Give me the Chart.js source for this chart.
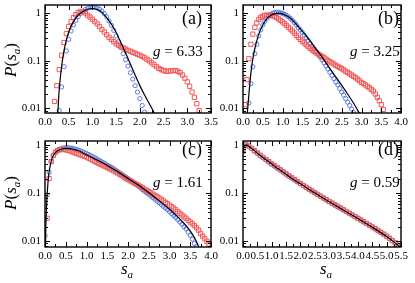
<!DOCTYPE html>
<html><head><meta charset="utf-8">
<script src="https://cdn.jsdelivr.net/npm/chart.js@4"></script>
<style>
body{margin:0;width:415px;height:283px;position:relative;background:#fff;overflow:hidden;font-family:'Liberation Serif','DejaVu Serif','Times New Roman',serif;}
canvas{position:absolute;}
.t{position:absolute;color:#000;white-space:nowrap;line-height:1;}
.rot{transform:translate(-50%,-50%) rotate(-90deg);font-size:17px;}
.xl{transform:translate(-50%,-50%);font-size:17px;}
sub{font-size:11px;vertical-align:-4px;}
</style></head><body>
<canvas id="pa" width="222" height="134" style="left:0px;top:0px"></canvas>
<canvas id="pb" width="216" height="134" style="left:198px;top:0px"></canvas>
<canvas id="pc" width="222" height="147" style="left:0px;top:136px"></canvas>
<canvas id="pd" width="216" height="147" style="left:198px;top:136px"></canvas>

<div class="t" style="left:182px;top:9px;font-size:18px">(a)</div>
<div class="t" style="left:153px;top:44px;font-size:15px"><i>g</i> = 6.33</div>
<div class="t" style="left:378px;top:9px;font-size:18px">(b)</div>
<div class="t" style="left:350px;top:44px;font-size:15px"><i>g</i> = 3.25</div>
<div class="t" style="left:182px;top:140px;font-size:18px">(c)</div>
<div class="t" style="left:153px;top:175px;font-size:15px"><i>g</i> = 1.61</div>
<div class="t" style="left:378px;top:140px;font-size:18px">(d)</div>
<div class="t" style="left:350px;top:175px;font-size:15px"><i>g</i> = 0.59</div>
<div class="t rot" style="left:12px;top:60px"><i>P</i>(<i>s</i><sub><i>a</i></sub>)</div>
<div class="t rot" style="left:12px;top:193px"><i>P</i>(<i>s</i><sub><i>a</i></sub>)</div>
<div class="t xl" style="left:127px;top:270px"><i>s</i><sub><i>a</i></sub></div>
<div class="t xl" style="left:326px;top:270px"><i>s</i><sub><i>a</i></sub></div>

<script>
// ---- tick labels ----
const yTicks = [0.01, 0.1, 1];
const yTickLabels = ['0.01', '0.1', '1'];
const xTicksA = [0, 0.5, 1, 1.5, 2, 2.5, 3, 3.5];
const xLabelsA = ['0.0','0.5','1.0','1.5','2.0','2.5','3.0','3.5'];
const xTicksB = [0, 0.5, 1, 1.5, 2, 2.5, 3, 3.5, 4];
const xLabelsB = ['0.0','0.5','1.0','1.5','2.0','2.5','3.0','3.5','4.0'];
const xTicksD = [0, 0.5, 1, 1.5, 2, 2.5, 3, 3.5, 4, 4.5, 5, 5.5];
const xLabelsD = ['0.0','0.5','1.0','1.5','2.0','2.5','3.0','3.5','4.0','4.5','5.0','5.5'];

// ---- panel (a) g = 6.33 ----
const aX = [0.15,0.20,0.25,0.30,0.35,0.40,0.45,0.50,0.55,0.60,0.65,0.70,0.75,0.80,0.85,0.90,0.95,1.00,1.05,1.10,1.15,1.20,1.25,1.30,1.35,1.40,1.45,1.50,1.55,1.60,1.65,1.70,1.75,1.80,1.85,1.90,1.95,2.00,2.05,2.10,2.15,2.20,2.25,2.30,2.35,2.40,2.45,2.50,2.55,2.60,2.65,2.70,2.75,2.80,2.85,2.90,2.95,3.00,3.05,3.10,3.15,3.20,3.25,3.30];
const aRed = [null,0.014,0.03,0.065,0.13,0.24,0.37,0.52,0.66,0.8,0.92,1.02,1.08,1.07,1.0,0.9,0.82,0.74,0.66,0.59,0.52,0.45,0.40,0.35,0.31,0.28,0.25,0.225,0.21,0.195,0.185,0.175,0.165,0.158,0.15,0.143,0.136,0.13,0.123,0.115,0.107,0.099,0.09,0.082,0.075,0.069,0.065,0.062,0.06,0.06,0.061,0.062,0.062,0.06,0.056,0.05,0.043,0.036,0.029,0.022,0.017,0.0125,0.009,null];
const aBlue = [null,null,null,0.009,0.028,0.075,0.16,0.28,0.42,0.56,0.7,0.84,0.97,1.08,1.18,1.26,1.31,1.33,1.32,1.27,1.2,1.1,0.97,0.83,0.68,0.55,0.43,0.33,0.25,0.19,0.14,0.105,0.077,0.056,0.041,0.03,0.022,0.016,0.0115,0.0083,null,null,null,null,null,null,null,null,null,null,null,null,null,null,null,null,null,null,null,null,null,null,null,null];
const aLineX = [0.27,0.30,0.35,0.40,0.45,0.50,0.60,0.70,0.80,0.90,1.00,1.10,1.20,1.30,1.40,1.50,1.60,1.70,1.80,1.90,2.00,2.10,2.20,2.30,2.35];
const aLineY = [0.008,0.025,0.075,0.16,0.27,0.4,0.66,0.9,1.08,1.2,1.24,1.18,1.03,0.8,0.58,0.39,0.24,0.145,0.085,0.05,0.03,0.019,0.0125,0.0082,0.0066];

// ---- panel (b) g = 3.25 ----
const bX = [0.05,0.10,0.15,0.20,0.25,0.30,0.35,0.40,0.45,0.50,0.55,0.60,0.65,0.70,0.75,0.80,0.85,0.90,0.95,1.00,1.05,1.10,1.15,1.20,1.25,1.30,1.35,1.40,1.45,1.50,1.55,1.60,1.65,1.70,1.75,1.80,1.85,1.90,1.95,2.00,2.05,2.10,2.15,2.20,2.25,2.30,2.35,2.40,2.45,2.50,2.55,2.60,2.65,2.70,2.75,2.80,2.85,2.90,2.95,3.00,3.05,3.10,3.15,3.20,3.25,3.30,3.35,3.40,3.45,3.50,3.55,3.60];
const bRed = [0.012,0.04,0.11,0.22,0.36,0.5,0.62,0.73,0.81,0.86,0.89,0.9,0.9,0.89,0.87,0.84,0.8,0.75,0.7,0.65,0.6,0.55,0.5,0.46,0.42,0.38,0.34,0.31,0.28,0.255,0.235,0.215,0.197,0.182,0.168,0.157,0.147,0.138,0.13,0.122,0.115,0.108,0.101,0.095,0.09,0.085,0.08,0.076,0.072,0.068,0.064,0.06,0.057,0.053,0.05,0.047,0.044,0.041,0.038,0.035,0.033,0.031,0.029,0.027,0.025,0.023,0.02,0.017,0.0145,0.012,0.0095,null];
const bBlue = [null,null,0.013,0.033,0.075,0.14,0.22,0.33,0.44,0.56,0.67,0.77,0.86,0.93,0.98,1.02,1.03,1.03,1.01,0.98,0.94,0.89,0.83,0.77,0.7,0.63,0.56,0.49,0.44,0.39,0.345,0.3,0.265,0.23,0.2,0.178,0.157,0.138,0.12,0.104,0.09,0.078,0.067,0.057,0.049,0.042,0.036,0.031,0.026,0.022,0.019,0.016,0.0135,0.0115,0.0097,0.0082,null,null,null,null,null,null,null,null,null,null,null,null,null,null,null,null];
const bLineX = [0.11,0.15,0.20,0.25,0.30,0.40,0.50,0.60,0.70,0.80,0.90,1.00,1.20,1.40,1.60,1.80,2.00,2.20,2.40,2.60,2.80,2.90,2.95];
const bLineY = [0.008,0.02,0.055,0.11,0.18,0.36,0.56,0.75,0.89,0.97,0.99,0.96,0.78,0.52,0.33,0.2,0.12,0.068,0.04,0.023,0.0128,0.0092,0.0078];

// ---- panel (c) g = 1.61 ----
const cX = [0.00,0.05,0.10,0.15,0.20,0.25,0.30,0.35,0.40,0.45,0.50,0.55,0.60,0.65,0.70,0.75,0.80,0.85,0.90,0.95,1.00,1.05,1.10,1.15,1.20,1.25,1.30,1.35,1.40,1.45,1.50,1.55,1.60,1.65,1.70,1.75,1.80,1.85,1.90,1.95,2.00,2.05,2.10,2.15,2.20,2.25,2.30,2.35,2.40,2.45,2.50,2.55,2.60,2.65,2.70,2.75,2.80,2.85,2.90,2.95,3.00,3.05,3.10,3.15,3.20,3.25,3.30,3.35,3.40,3.45,3.50,3.55,3.60,3.65,3.70,3.75,3.80,3.85,3.90,3.95,4.00];
const cRed = [null,0.03,0.2,0.45,0.6,0.7,0.76,0.79,0.8,0.8,0.79,0.77,0.75,0.72,0.69,0.67,0.645,0.62,0.6,0.58,0.56,0.53,0.505,0.48,0.455,0.43,0.41,0.39,0.37,0.355,0.34,0.32,0.305,0.29,0.275,0.26,0.245,0.23,0.215,0.2,0.19,0.18,0.17,0.161,0.153,0.145,0.137,0.129,0.121,0.114,0.107,0.101,0.095,0.089,0.084,0.079,0.074,0.069,0.064,0.06,0.056,0.052,0.049,0.045,0.041,0.038,0.035,0.032,0.03,0.027,0.025,0.023,0.021,0.019,0.017,0.0145,0.0128,0.0113,0.01,0.0088,null];
const cBlue = [0.013,0.09,0.27,0.45,0.6,0.7,0.77,0.81,0.84,0.86,0.87,0.87,0.86,0.85,0.83,0.8,0.78,0.75,0.72,0.69,0.66,0.63,0.6,0.57,0.54,0.51,0.48,0.455,0.43,0.405,0.38,0.36,0.34,0.32,0.3,0.28,0.262,0.245,0.229,0.214,0.2,0.187,0.174,0.162,0.15,0.139,0.128,0.118,0.108,0.101,0.094,0.087,0.08,0.074,0.068,0.063,0.058,0.053,0.049,0.045,0.041,0.037,0.034,0.031,0.028,0.025,0.0225,0.02,0.018,0.0155,0.0132,0.011,0.009,0.0077,null,null,null,null,null,null,null];
const cLineX = [0.01,0.02,0.04,0.06,0.08,0.10,0.15,0.20,0.30,0.40,0.50,0.60,0.70,0.80,1.00,1.20,1.40,1.60,1.80,2.00,2.20,2.40,2.60,2.80,3.00,3.20,3.40,3.60,3.70];
const cLineY = [0.008,0.02,0.06,0.12,0.2,0.28,0.46,0.6,0.75,0.82,0.84,0.83,0.8,0.76,0.62,0.51,0.42,0.33,0.26,0.2,0.155,0.118,0.088,0.064,0.046,0.032,0.021,0.012,0.0078];

// ---- panel (d) g = 0.59 ----
const dX = [0.0,0.1,0.2,0.3,0.4,0.5,0.6,0.7,0.8,0.9,1.0,1.1,1.2,1.3,1.4,1.5,1.6,1.7,1.8,1.9,2.0,2.1,2.2,2.3,2.4,2.5,2.6,2.7,2.8,2.9,3.0,3.1,3.2,3.3,3.4,3.5,3.6,3.7,3.8,3.9,4.0,4.1,4.2,4.3,4.4,4.5,4.6,4.7,4.8,4.9,5.0,5.1,5.2,5.3,5.4];
const dRed = [0.8,1.02,0.95,0.85,0.76,0.68,0.61,0.55,0.495,0.45,0.405,0.37,0.335,0.305,0.276,0.25,0.228,0.208,0.19,0.173,0.158,0.144,0.132,0.121,0.111,0.102,0.094,0.086,0.079,0.073,0.067,0.062,0.057,0.053,0.049,0.045,0.0415,0.0383,0.0353,0.0326,0.03,0.0277,0.0255,0.0235,0.0216,0.0199,0.0183,0.0168,0.0154,0.0141,0.0128,0.0116,0.0104,0.0093,0.0082];
const dBlue = [0.7,0.99,0.92,0.83,0.74,0.66,0.59,0.535,0.485,0.44,0.397,0.36,0.327,0.297,0.27,0.246,0.224,0.204,0.186,0.17,0.155,0.142,0.13,0.119,0.109,0.1,0.092,0.085,0.078,0.072,0.066,0.061,0.056,0.052,0.048,0.0445,0.041,0.038,0.035,0.0323,0.0297,0.0274,0.0252,0.0232,0.0213,0.0196,0.018,0.0165,0.0151,0.0138,0.0125,0.0113,0.0102,0.0091,0.008];
const dLineX = [0.0,0.03,0.06,0.1,0.15,0.2,0.3,0.4,0.5,0.7,1.0,1.25,1.5,1.75,2.0,2.5,3.0,3.5,4.0,4.5,5.0,5.25,5.5];
const dLineY = [0.72,0.9,0.98,1.0,0.98,0.93,0.84,0.75,0.67,0.54,0.4,0.31,0.245,0.19,0.155,0.1,0.066,0.044,0.0295,0.0195,0.0125,0.0097,0.0074];

const RED = 'rgb(242,88,88)';
const BLUE = 'rgb(70,110,228)';

function pts(xs, ys){ const out=[]; xs.forEach((x,i)=>{ if(ys[i]!==null) out.push({x:x,y:ys[i]}); }); return out; }

const framePlugin = {
  id:'frame',
  afterDatasetsDraw(chart, args, o){
    const ctx = chart.ctx, a = chart.chartArea, xs = chart.scales.x, ys = chart.scales.y;
    ctx.save();
    ctx.strokeStyle = '#000';
    ctx.lineWidth = 1;
    ctx.beginPath();
    const M = 5, m = 3;
    const vt = (px, len) => { ctx.moveTo(px, a.bottom); ctx.lineTo(px, a.bottom - len); ctx.moveTo(px, a.top); ctx.lineTo(px, a.top + len); };
    const ht = (py, len) => { ctx.moveTo(a.left, py); ctx.lineTo(a.left + len, py); ctx.moveTo(a.right, py); ctx.lineTo(a.right - len, py); };
    o.xt.forEach((v,i) => {
      vt(Math.round(xs.getPixelForValue(v)) + 0.5, M);
      if (i < o.xt.length - 1) vt(Math.round(xs.getPixelForValue((v + o.xt[i+1]) / 2)) + 0.5, m);
    });
    yTicks.forEach(v => ht(Math.round(ys.getPixelForValue(v)) + 0.5, M));
    [0.001, 0.01, 0.1, 1].forEach(d => {
      for (let k = 2; k <= 9; k++) {
        const v = d * k;
        if (v > ys.min && v < ys.max) ht(Math.round(ys.getPixelForValue(v)) + 0.5, m);
      }
    });
    ctx.stroke();
    ctx.lineWidth = 1.4;
    ctx.strokeRect(a.left, a.top, a.right - a.left, a.bottom - a.top);
    ctx.restore();
  }
};

const panels = [
  {id:'pa', x:aX, red:aRed, blue:aBlue, lx:aLineX, ly:aLineY, xmax:3.5, xt:xTicksA, xl:xLabelsA, ymin:0.008, ymax:1.47, yW:45, padT:1, padR:11, xH:21},
  {id:'pb', x:bX, red:bRed, blue:bBlue, lx:bLineX, ly:bLineY, xmax:4.0, xt:xTicksB, xl:xLabelsB, ymin:0.008, ymax:1.47, yW:45, padT:1, padR:13, xH:21},
  {id:'pc', x:cX, red:cRed, blue:cBlue, lx:cLineX, ly:cLineY, xmax:4.0, xt:xTicksB, xl:xLabelsB, ymin:0.0076, ymax:1.2, yW:45, padT:2, padR:11, xH:36},
  {id:'pd', x:dX, red:dRed, blue:dBlue, lx:dLineX, ly:dLineY, xmax:5.5, xt:xTicksD, xl:xLabelsD, ymin:0.0076, ymax:1.2, yW:45, padT:2, padR:13, xH:36}
];

const tickFont = {family:"'Liberation Serif','DejaVu Serif','Times New Roman',serif", size:11};

panels.forEach(p => {
  new Chart(document.getElementById(p.id), {
    type:'scatter',
    data:{datasets:[
      {label:'model', data:pts(p.lx, p.ly), showLine:true, borderColor:'#000', borderWidth:1.2, pointRadius:0, cubicInterpolationMode:'monotone', fill:false},
      {label:'red', data:pts(p.x, p.red), pointStyle:'rect', pointRadius:3, borderColor:RED, backgroundColor:'rgba(0,0,0,0)', borderWidth:1, pointBorderWidth:1},
      {label:'blue', data:pts(p.x, p.blue), pointStyle:'circle', pointRadius:2.1, borderColor:BLUE, backgroundColor:'rgba(0,0,0,0)', borderWidth:0.9, pointBorderWidth:0.9}
    ]},
    options:{
      responsive:false, animation:false, events:[],
      layout:{padding:{left:0, top:p.padT, right:p.padR, bottom:0}},
      plugins:{legend:{display:false}, tooltip:{enabled:false}, frame:{xt:p.xt}},
      scales:{
        x:{type:'linear', min:0, max:p.xmax,
           grid:{display:false, drawTicks:false}, border:{display:false},
           afterBuildTicks:s => { s.ticks = p.xt.map(v => ({value:v})); },
           afterFit:s => { s.height = p.xH; s.paddingLeft = 0; s.paddingRight = 0; },
           ticks:{autoSkip:false, maxRotation:0, minRotation:0, padding:3, color:'#000', font:tickFont, callback:(v,i) => p.xl[i]}},
        y:{type:'logarithmic', min:p.ymin, max:p.ymax,
           grid:{display:false, drawTicks:false}, border:{display:false},
           afterBuildTicks:s => { s.ticks = yTicks.map(v => ({value:v})); },
           afterFit:s => { s.width = p.yW; s.paddingTop = 0; s.paddingBottom = 0; },
           ticks:{autoSkip:false, padding:4, color:'#000', font:tickFont, callback:(v,i) => yTickLabels[i]}}
      }
    },
    plugins:[framePlugin]
  });
});
</script>
</body></html>
